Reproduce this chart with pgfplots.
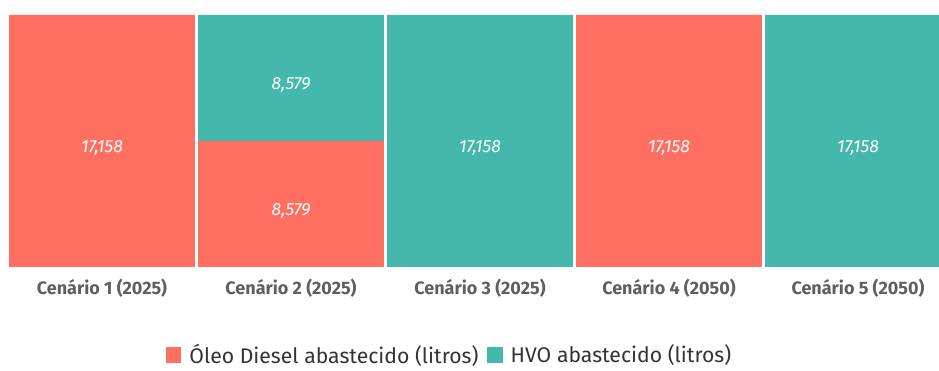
\documentclass[border=0pt]{standalone}
\usepackage{fontspec}
\setmainfont{Fira Sans}
\usepackage{pgfplots}
\pgfplotsset{compat=1.18}
\definecolor{coral}{RGB}{255,111,97}
\definecolor{tealc}{RGB}{69,184,172}
\definecolor{lbl}{RGB}{95,95,95}
\definecolor{legtxt}{RGB}{51,51,51}
\pgfplotsset{sqlegend/.style={legend image code/.code={\fill[##1] (0pt,-5.8pt) rectangle (11.6pt,5.8pt);}}}
\begin{document}
\begin{tikzpicture}
\path[fill=white] (0pt,0pt) rectangle (704.25pt,275.25pt);
\begin{axis}[
  at={(5.625pt,75pt)}, anchor=south west,
  scale only axis, width=698.625pt, height=189pt,
  xmin=-0.5, xmax=4.4286, ymin=0, ymax=17158,
  ybar stacked, bar width=0.984,
  axis line style={draw=none},
  ytick=\empty, major tick length=0pt,
  xtick={0,1,2,3,4},
  xticklabels={Cenário 1 (2025),Cenário 2 (2025),Cenário 3 (2025),Cenário 4 (2050),Cenário 5 (2050)},
  xticklabel style={font=\bfseries\fontsize{13.5}{15}\selectfont, text=lbl, anchor=center, yshift=-15.75pt},
  legend style={at={(0.475,-0.349)}, anchor=center, draw=none, fill=none, legend columns=2,
    font=\fontsize{15.9}{17}\selectfont, text=legtxt,
    /tikz/every odd column/.append style={column sep=4pt},
    /tikz/every even column/.append style={column sep=4.5pt}},
  nodes near coords, point meta=explicit symbolic,
  nodes near coords style={anchor=center, text=white, font=\itshape\fontsize{13.2}{15}\selectfont, yshift=-5pt},
  clip=true,
]
\addplot[fill=coral, draw=none, sqlegend] table[x=x,y=y,meta=l] {
x y l
0 17158 17,158
1 8579 8,579
2 0 {}
3 17158 17,158
4 0 {}
};
\addlegendentry{Óleo Diesel abastecido (litros)}
\addplot[fill=tealc, draw=none, sqlegend] table[x=x,y=y,meta=l] {
x y l
0 0 {}
1 8579 8,579
2 17158 17,158
3 0 {}
4 17158 17,158
};
\addlegendentry{HVO abastecido (litros)}
\end{axis}
\end{tikzpicture}
\end{document}
